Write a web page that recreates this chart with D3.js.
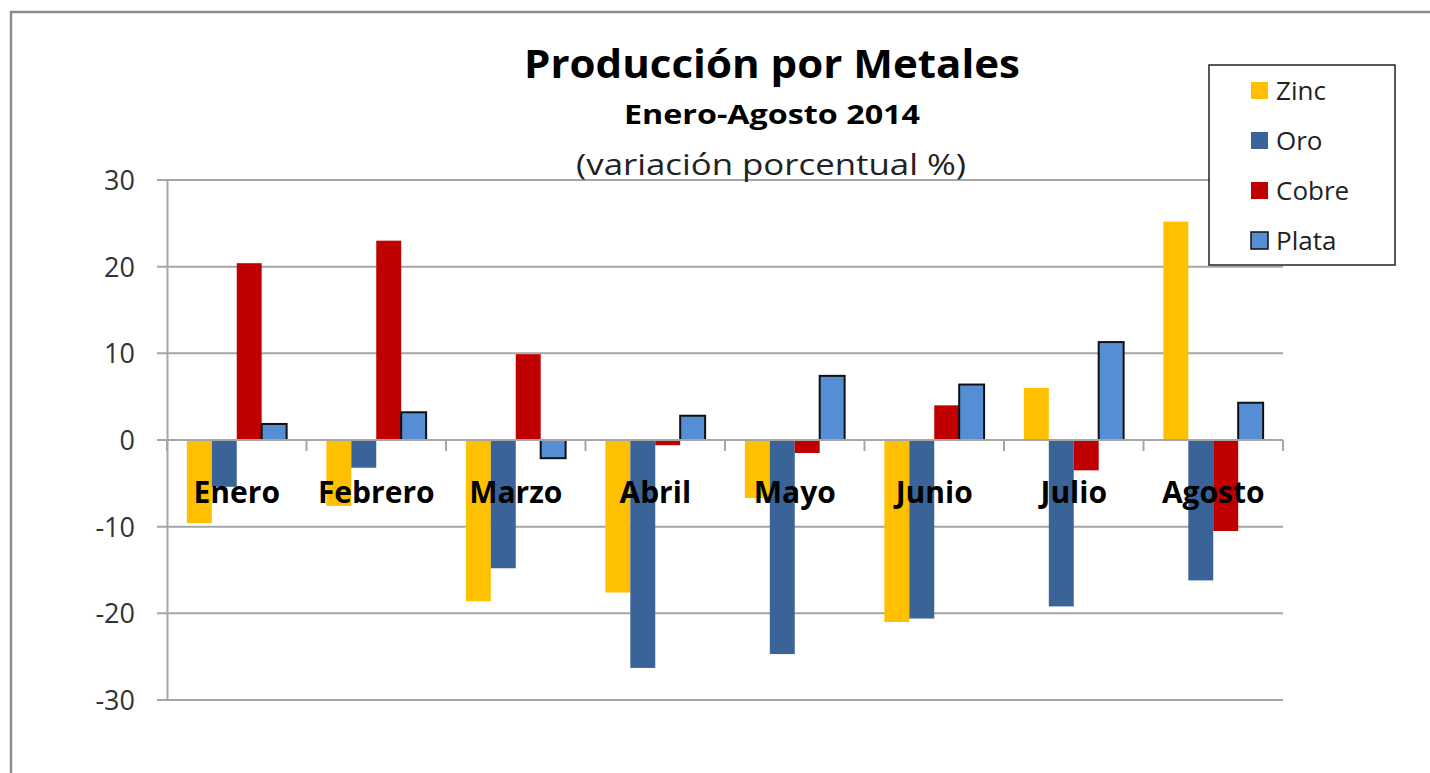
<!DOCTYPE html>
<html><head><meta charset="utf-8">
<script src="https://cdn.jsdelivr.net/npm/d3@7"></script>
<style>body{margin:0;background:#fff}svg{display:block}</style>
</head><body>
<script>
const categories = ["Enero","Febrero","Marzo","Abril","Mayo","Junio","Julio","Agosto"];
const seriesNames = ["Zinc","Oro","Cobre","Plata"];
const zinc  = [-9.6, -7.6, -18.6, -17.6, -6.7, -21.0, 6.0, 25.2];
const oro   = [-5.4, -3.2, -14.8, -26.3, -24.7, -20.6, -19.2, -16.2];
const cobre = [20.4, 23.0, 9.9, -0.6, -1.5, 4.0, -3.5, -10.5];
const plata = [1.85, 3.2, -2.1, 2.8, 7.4, 6.4, 11.3, 4.3];
const yTicks = [30,20,10,0,-10,-20,-30];
const colors = ["#FFC000","#3A6398","#C00000","#558ED5"];
const strokes = ["none","none","none","#111"];

(function(){
const W=1430,H=773;
const svg=d3.select("body").append("svg").attr("width",W).attr("height",H);
const font="'Open Sans', sans-serif";

// outer border
svg.append("path").attr("d","M11,775 V12 H1432").attr("fill","none").attr("stroke","#8c8c8c").attr("stroke-width",2.5);

const pL=167,pR=1283,pT=180,pB=700;
const y=d3.scaleLinear().domain([-30,30]).range([pB,pT]);
const x0=d3.scaleBand().domain(categories).range([pL,pR]).paddingInner(0.285).paddingOuter(0.1425);
const x1=d3.scaleBand().domain(seriesNames).range([0,x0.bandwidth()]);

// gridlines
svg.append("g").selectAll("line").data(yTicks).join("line")
 .attr("x1",pL-10).attr("x2",pR).attr("y1",d=>y(d)).attr("y2",d=>y(d))
 .attr("stroke","#a6a6a6").attr("stroke-width",2);
// y axis
const yAxis=d3.axisLeft(y).tickValues(yTicks).tickSize(0).tickPadding(32).tickFormat(d=>String(d));
const ga=svg.append("g").attr("transform",`translate(${pL},0)`).call(yAxis);
ga.select(".domain").attr("stroke","#a6a6a6").attr("stroke-width",2);
ga.selectAll("text").attr("font-family",font).attr("font-size",27).attr("fill","#333").attr("dy","0.35em");

// bars
const data=[zinc,oro,cobre,plata];
data.forEach((vals,si)=>{
  svg.append("g").selectAll("rect").data(vals).join("rect")
   .attr("x",(d,i)=>x0(categories[i])+x1(seriesNames[si]))
   .attr("width",x1.bandwidth())
   .attr("y",d=>y(Math.max(0,d)))
   .attr("height",d=>Math.abs(y(d)-y(0)))
   .attr("fill",colors[si])
   .attr("stroke",strokes[si]).attr("stroke-width",si===3?2:0);
});

// zero axis line with category ticks
svg.append("line").attr("x1",pL).attr("x2",pR).attr("y1",y(0)).attr("y2",y(0)).attr("stroke","#a6a6a6").attr("stroke-width",2);
const step=(pR-pL)/categories.length;
svg.append("g").selectAll("line").data(d3.range(categories.length+1)).join("line")
 .attr("x1",i=>pL+i*step).attr("x2",i=>pL+i*step).attr("y1",y(0)).attr("y2",y(0)+11)
 .attr("stroke","#a6a6a6").attr("stroke-width",2);

// category labels
svg.append("g").selectAll("text").data(categories).join("text")
 .attr("x",d=>x0(d)+x0.bandwidth()/2).attr("y",503)
 .attr("text-anchor","middle").attr("font-family",font).attr("font-weight","bold")
 .attr("font-size",30).attr("fill","#000").text(d=>d);

// titles
svg.append("text").attr("x",772).attr("y",78).attr("text-anchor","middle").attr("font-family",font)
 .attr("font-weight","bold").attr("font-size",39).attr("textLength",496).attr("lengthAdjust","spacingAndGlyphs").text("Producción por Metales");
svg.append("text").attr("x",772).attr("y",124).attr("text-anchor","middle").attr("font-family",font)
 .attr("font-weight","bold").attr("font-size",26).attr("textLength",296).attr("lengthAdjust","spacingAndGlyphs").text("Enero-Agosto 2014");
svg.append("text").attr("x",771).attr("y",175).attr("text-anchor","middle").attr("font-family",font)
 .attr("font-size",30).attr("textLength",390).attr("lengthAdjust","spacingAndGlyphs").attr("fill","#222").text("(variación porcentual %)");

// legend
const lg=svg.append("g");
lg.append("rect").attr("x",1209).attr("y",65).attr("width",186).attr("height",200).attr("fill","#fff").attr("stroke","#222").attr("stroke-width",1.5);
seriesNames.forEach((n,i)=>{
  const cy=90+i*50;
  lg.append("rect").attr("x",1251).attr("y",cy-8).attr("width",17).attr("height",17)
   .attr("fill",colors[i]).attr("stroke",i===3?"#111":"none").attr("stroke-width",1.5);
  lg.append("text").attr("x",1276).attr("y",cy+1).attr("dy","0.35em").attr("font-family",font)
   .attr("font-size",26).attr("fill","#222").text(n);
});
})();
</script>
</body></html>
